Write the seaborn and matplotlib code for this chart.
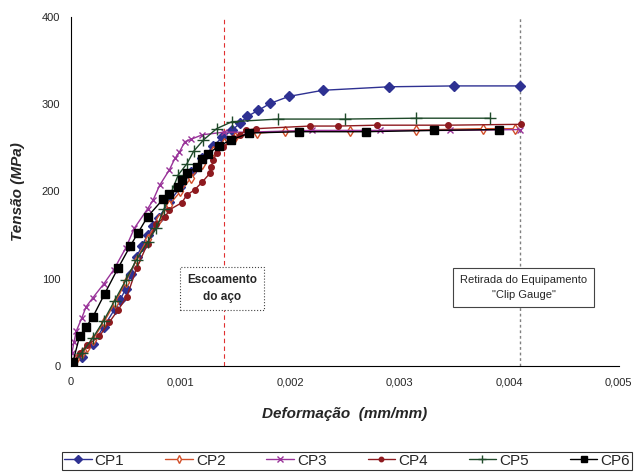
import numpy as np
import pandas as pd
import matplotlib
matplotlib.use("Agg")
import matplotlib.pyplot as plt
import seaborn as sns
from matplotlib.ticker import MultipleLocator, FuncFormatter

# curve data (strain mm/mm, stress MPa)
cp1_x = [0, 0.0001, 0.0002, 0.0003, 0.0004, 0.00045, 0.0005, 0.00055, 0.0006, 0.00065, 0.0007, 0.00075,
         0.0008, 0.0009, 0.001, 0.0011, 0.0012, 0.0013, 0.00138, 0.00147, 0.00154, 0.00161, 0.00171,
         0.00182, 0.00199, 0.0023, 0.0029, 0.0035, 0.0041]
cp1_y = [0, 10, 25, 45, 65, 76, 88, 106, 125, 138, 150, 160, 170, 188, 205, 222, 238, 252, 262, 270,
         278, 286, 293, 301, 309, 316, 320, 321, 321]

cp2_x = [0, 0.00005, 0.0001, 0.00015, 0.0002, 0.0003, 0.0004, 0.0005, 0.0006, 0.0007, 0.0008, 0.0009,
         0.001, 0.0011, 0.0012, 0.0013, 0.0014, 0.0015, 0.0017, 0.00195, 0.00255, 0.00315, 0.00376, 0.00405]
cp2_y = [0, 8, 15, 22, 30, 50, 72, 96, 122, 146, 168, 185, 200, 216, 232, 246, 256, 262, 267, 269,
         269, 270.5, 272, 272]

cp3_x = [0, 0.00001, 0.00003, 0.00005, 0.0001, 0.00014, 0.0002, 0.0003, 0.00039, 0.0005, 0.00058,
         0.0007, 0.00075, 0.00081, 0.0009, 0.00095, 0.00099, 0.00104, 0.0011, 0.0012, 0.0014, 0.0016,
         0.0022, 0.00282, 0.00346, 0.0041]
cp3_y = [0, 15, 28, 40, 55, 68, 78, 94, 110, 135, 158, 180, 190, 207, 225, 238, 245, 257, 260, 265,
         268, 268, 270, 270, 270, 271]

cp4_x = [0, 0.00008, 0.00015, 0.00026, 0.00035, 0.00043, 0.00051, 0.0006, 0.0007, 0.00078, 0.00086,
         0.0009, 0.00101, 0.00106, 0.00113, 0.0012, 0.00127, 0.00128, 0.0013, 0.00133, 0.00139, 0.00148,
         0.00154, 0.0016, 0.00169, 0.00218, 0.00244, 0.00279, 0.00344, 0.00411]
cp4_y = [0, 15, 24, 34, 50, 64, 79, 112, 140, 163, 171, 179, 187, 196, 202, 211, 221, 228, 236, 244,
         251, 261, 265, 270, 272, 275, 275, 276, 276, 277]

cp5_x = [0, 0.0001, 0.0002, 0.0003, 0.0004, 0.0005, 0.0006, 0.0007, 0.00078, 0.00085, 0.00092, 0.00098,
         0.00106, 0.00112, 0.00121, 0.00133, 0.00147, 0.00189, 0.0025, 0.00315, 0.00382]
cp5_y = [0, 15, 32, 52, 75, 98, 122, 142, 158, 180, 200, 219, 232, 246, 259, 272, 280, 283, 283, 284, 284]

cp6_x = [0, 0.00002, 0.00008, 0.00014, 0.0002, 0.00031, 0.00043, 0.00054, 0.00061, 0.0007, 0.00084,
         0.0009, 0.00098, 0.00101, 0.00106, 0.00115, 0.0012, 0.00125, 0.00135, 0.00146, 0.00163, 0.00208,
         0.00269, 0.00331, 0.00391]
cp6_y = [0, 5, 34, 45, 56, 83, 112, 137, 152, 171, 191, 197, 205, 213, 221, 228, 237, 243, 252, 259,
         267, 268.5, 268.5, 270, 271]

names = ["CP1", "CP2", "CP3", "CP4", "CP5", "CP6"]
xs = [cp1_x, cp2_x, cp3_x, cp4_x, cp5_x, cp6_x]
ys = [cp1_y, cp2_y, cp3_y, cp4_y, cp5_y, cp6_y]

yield_strain = 0.0014
removal_strain = 0.0041

sns.set_style("white")
plt.rcParams['font.family'] = ['Liberation Sans', 'DejaVu Sans']

styles = {
    "CP1": dict(color="#2E3192", marker="D", markersize=5, mfc="#2E3192", mec="#2E3192"),
    "CP2": dict(color="#D2502A", marker="d", markersize=5, mfc="white", mec="#D2502A"),
    "CP3": dict(color="#993399", marker="x", markersize=5, mfc="#993399", mec="#993399"),
    "CP4": dict(color="#8E1A1F", marker="o", markersize=4, mfc="#8E1A1F", mec="#8E1A1F"),
    "CP5": dict(color="#1F4A2A", marker="+", markersize=8, mfc="#1F4A2A", mec="#1F4A2A"),
    "CP6": dict(color="#000000", marker="s", markersize=6, mfc="#000000", mec="#000000"),
}

fig = plt.figure(figsize=(6.38, 4.72), dpi=100)
ax = fig.add_axes([0.111, 0.2246, 0.859, 0.7394])

for name, x, y in zip(names, xs, ys):
    df = pd.DataFrame({"x": x, "y": y})
    st = styles[name]
    sns.lineplot(data=df, x="x", y="y", ax=ax, sort=False, label=name, color=st["color"],
                 marker=st["marker"], markersize=st["markersize"], markerfacecolor=st["mfc"],
                 markeredgecolor=st["mec"], markeredgewidth=1, linewidth=1)

ax.axvline(yield_strain, color="#E03030", linestyle=(0, (4, 3)), linewidth=0.8, zorder=0)
ax.axvline(removal_strain, color="#808080", linestyle=(0, (2, 2)), linewidth=1.0, zorder=0)

ax.text(0.001383, 89, "Escoamento\ndo aço", ha="center", va="center", fontsize=8.5,
        fontweight="bold", linespacing=1.6,
        bbox=dict(boxstyle="square,pad=0.6", fc="white", ec="#444444", lw=0.8, ls=":"))
ax.text(0.00413, 90, "Retirada do Equipamento\n\"Clip Gauge\"", ha="center", va="center",
        fontsize=8, linespacing=1.6,
        bbox=dict(boxstyle="square,pad=0.6", fc="white", ec="#444444", lw=0.8))

ax.set_xlim(0, 0.005)
ax.set_ylim(0, 400)
ax.xaxis.set_major_locator(MultipleLocator(0.001))
ax.xaxis.set_minor_locator(MultipleLocator(0.0002))
ax.yaxis.set_major_locator(MultipleLocator(100))
ax.yaxis.set_minor_locator(MultipleLocator(20))
ax.xaxis.set_major_formatter(FuncFormatter(lambda v, p: "0" if abs(v) < 1e-12 else f"{v:.3f}".replace(".", ",")))
ax.tick_params(axis="both", which="major", direction="inout", length=8, width=0.8, labelsize=8)
ax.tick_params(axis="both", which="minor", direction="in", length=4, width=0.8)
ax.tick_params(axis="x", which="major", pad=4)

sns.despine(ax=ax)
for s in ["left", "bottom"]:
    ax.spines[s].set_linewidth(0.8)
    ax.spines[s].set_color("black")

ax.set_xlabel("Deformação  (mm/mm)", fontsize=11, fontweight="bold", fontstyle="italic", labelpad=14)
ax.set_ylabel("Tensão (MPa)", fontsize=11, fontweight="bold", fontstyle="italic", labelpad=12)

handles, labels = ax.get_legend_handles_labels()
ax.get_legend().remove()
leg = fig.legend(handles, labels, loc="lower left", bbox_to_anchor=(0.097, 0.004, 0.894, 0.047),
                 mode="expand", ncol=6, fontsize=11, frameon=True, fancybox=False,
                 handlelength=1.8, handletextpad=0.2, borderpad=0.15, borderaxespad=0,
                 markerscale=0.8)
leg.get_frame().set_edgecolor("black")
leg.get_frame().set_linewidth(0.8)

fig.savefig("out.png", dpi=100)
